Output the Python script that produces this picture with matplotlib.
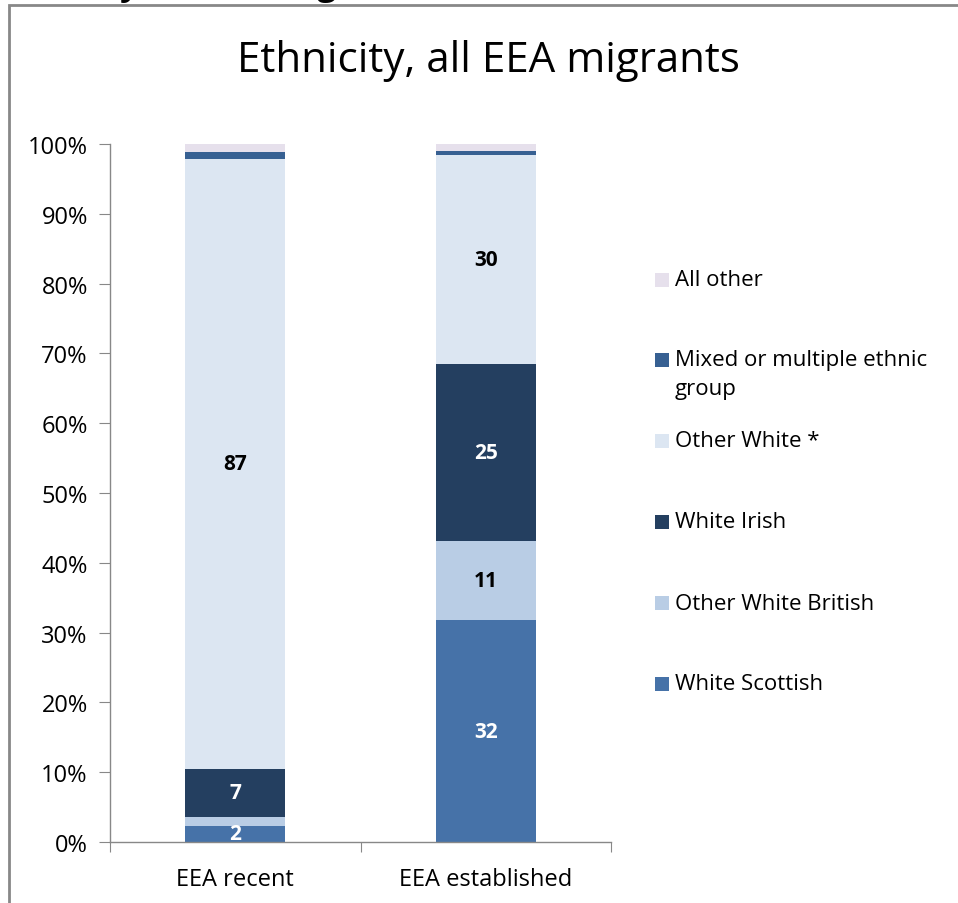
import matplotlib
matplotlib.use("Agg")
import matplotlib.pyplot as plt
from matplotlib.patches import Rectangle
import numpy as np

plt.rcParams['font.family'] = ['Open Sans', 'DejaVu Sans']

categories = ["EEA recent", "EEA established"]
series = ["White Scottish", "Other White British", "White Irish",
          "Other White *", "Mixed or multiple ethnic\ngroup", "All other"]
values = {
    "White Scottish":      [2.3, 31.8],
    "Other White British": [1.3, 11.3],
    "White Irish":         [6.9, 25.4],
    "Other White *":       [87.4, 29.9],
    "Mixed or multiple ethnic\ngroup": [0.9, 0.6],
    "All other":           [1.2, 1.0],
}
colors = ["#4672A8", "#B9CDE5", "#243F60", "#DCE6F2", "#376092", "#E6E0EC"]
label_colors = ["white", "black", "white", "black", None, None]
min_label = 2.0
yticks = list(range(0, 101, 10))
ytick_labels = [f"{t}%" for t in yticks]

W, H = 958, 904
fig = plt.figure(figsize=(W/100, H/100), dpi=100)

def fx(px): return px / W
def fy(py): return 1 - py / H

ax = fig.add_axes([fx(110), fy(843), fx(611) - fx(110), fy(145) - fy(843)])
x = np.arange(len(categories))
bottom = np.zeros(len(categories))
for s, c, lc in zip(series, colors, label_colors):
    v = np.array(values[s])
    ax.bar(x, v, bottom=bottom, width=0.4, color=c, edgecolor='none', zorder=2)
    if lc is not None:
        for xi, (vi, bi) in enumerate(zip(v, bottom)):
            if vi >= min_label:
                ax.text(xi, bi + vi / 2, f"{vi:.0f}", ha='center', va='center',
                        color=lc, fontsize=15, fontweight='bold', clip_on=True, zorder=3)
    bottom += v

ax.set_xlim(-0.5, 1.5)
ax.set_ylim(0, 100)
ax.set_yticks(yticks)
ax.set_yticklabels(ytick_labels)
ax.set_xticks([-0.5, 0.5, 1.5], minor=False)
ax.set_xticklabels([])
ax.set_xticks(x, minor=True)
ax.set_xticklabels(categories, minor=True)
ax.tick_params(axis='x', which='minor', length=0, pad=18, labelsize=17)
ax.tick_params(axis='x', which='major', length=7, color='#888888', direction='out')
ax.tick_params(axis='y', length=8, color='#888888', direction='out', labelsize=17, pad=8)
for sp in ['top', 'right']:
    ax.spines[sp].set_visible(False)
for sp in ['left', 'bottom']:
    ax.spines[sp].set_color('#888888')
    ax.spines[sp].set_linewidth(1.0)

# title
fig.text(fx(488), fy(61), "Ethnicity, all EEA migrants", ha='center', va='center',
         fontsize=30.3, color='black')

# legend (manual, reversed order)
leg_y = [281, 361, 442, 523, 604, 685]
for yy, s, c in zip(leg_y, series[::-1], colors[::-1]):
    fig.add_artist(Rectangle((fx(655), fy(yy + 7)), fx(14), 14 / H, transform=fig.transFigure,
                             facecolor=c, edgecolor='none'))
    if '\n' in s:
        fig.text(fx(675), fy(yy - 11), s, ha='left', va='top', fontsize=16,
                 color='black', linespacing=1.5)
    else:
        fig.text(fx(675), fy(yy), s, ha='left', va='center', fontsize=16, color='black')

# outer chart border
fig.add_artist(Rectangle((fx(9), fy(H + 20)), 1.0, fy(6) - fy(H + 20), transform=fig.transFigure,
                         facecolor='none', edgecolor='#888888', linewidth=2))

# cut-off heading above the chart
heading = "Ethnicity, all EEA migrants"
renderer = fig.canvas.get_renderer()
probe = fig.text(0, 0, "Ethnicit", fontsize=24, fontweight='bold')
wpx = probe.get_window_extent(renderer).width
probe.remove()
fig.text(fx(120 - wpx), fy(-5), heading, ha='left', va='baseline',
         fontsize=24, fontweight='bold', color='black')

fig.savefig("out.png", dpi=100)
